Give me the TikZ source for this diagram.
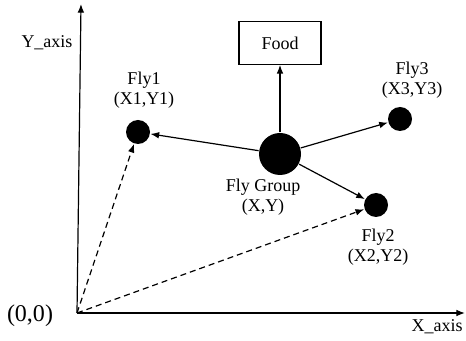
\documentclass[tikz,border=0pt]{standalone}
\usepackage{fontspec}
\setmainfont{Liberation Serif}
\usetikzlibrary{arrows.meta}
\begin{document}
\begin{tikzpicture}[x=0.75pt,y=-0.75pt,>={Latex[length=6.5pt,width=5pt]},line width=0.9pt,
    fly/.style={circle,fill=black,inner sep=0pt,minimum size=18pt},
    lbl/.style={font=\fontsize{13.5}{15}\selectfont,align=center},
    guess/.style={dash pattern=on 4.5pt off 3pt}]
  \useasboundingbox (0,0) rectangle (466,341);
  % axes
  \coordinate (o) at (77,313);
  \coordinate (ytip) at (81,4);
  \coordinate (xtip) at (465,313);
  \draw[->] (o) -- (ytip);
  \draw[->] (o) -- (xtip);
  \node[lbl] (ylab) at (47,43) {Y\_axis};
  \node[lbl] (xlab) at (437,327) {X\_axis};
  \node[font=\fontsize{18}{20}\selectfont] (olab) at (30,316) {(0,0)};
  % food and flies
  \node[draw,lbl,minimum width=61.5pt,minimum height=32pt] (food) at (280,43) {Food};
  \node[fly,minimum size=31.5pt] (grp) at (280,154) {};
  \node[fly] (fly1) at (138,132) {};
  \node[fly] (fly2) at (376,205) {};
  \node[fly] (fly3) at (400,119) {};
  \node[lbl] (grplab) at (263,197) {Fly Group\\(X,Y)};
  \node[lbl] (fly1lab) at (144,90) {Fly1\\(X1,Y1)};
  \node[lbl] (fly2lab) at (378,247) {Fly2\\(X2,Y2)};
  \node[lbl] (fly3lab) at (412,80) {Fly3\\(X3,Y3)};
  \draw[->] (grp) -- (food);
  \draw[->] (grp) -- (fly1);
  \draw[->] (grp) -- (fly2);
  \draw[->] (grp) -- (fly3);
  \draw[->,guess] (o) -- (fly1);
  \draw[->,guess] (o) -- (fly2);
\end{tikzpicture}
\end{document}
